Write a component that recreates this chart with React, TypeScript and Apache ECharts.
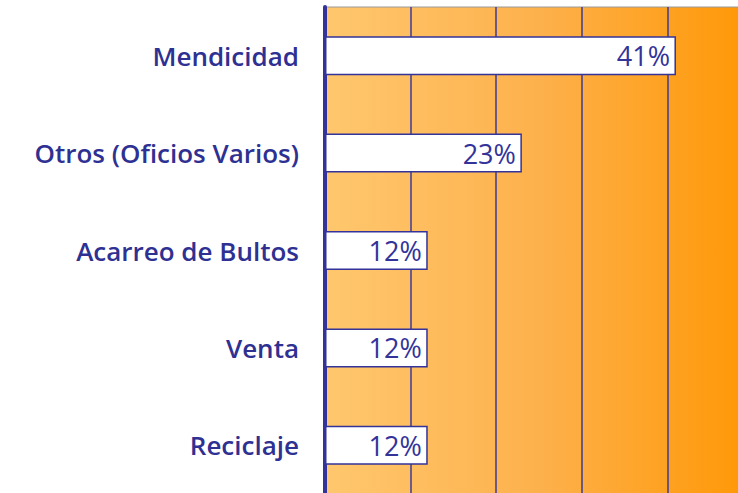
import React, { useEffect, useRef } from "react";
import * as echarts from "echarts";

const categories = ["Mendicidad", "Otros (Oficios Varios)", "Acarreo de Bultos", "Venta", "Reciclaje"];
const values = [41, 23, 12, 12, 12];
const xTicks = [0, 10, 20, 30, 40, 50];

export default function App() {
  const ref = useRef<HTMLDivElement>(null);
  useEffect(() => {
    if (!ref.current) return;
    const chart = echarts.init(ref.current, null, { renderer: "svg" });
    chart.setOption({
      animation: false,
      backgroundColor: "#ffffff",
      grid: {
        left: 325,
        top: 7,
        right: -15,
        bottom: -1,
        outerBoundsMode: "none",
        containLabel: false,
        show: true,
        borderColor: "#9a9a9a",
        borderWidth: 1,
        backgroundColor: new echarts.graphic.LinearGradient(0, 0, 1, 0, [
          { offset: 0, color: "#FFC76E" },
          { offset: 0.5, color: "#FDB14C" },
          { offset: 1, color: "#FF9704" },
        ]),
      },
      xAxis: {
        type: "value",
        min: xTicks[0],
        max: xTicks[xTicks.length - 1],
        interval: 10,
        axisLabel: { show: false },
        axisLine: { show: false },
        axisTick: { show: false },
        splitLine: { show: true, lineStyle: { color: "#3b3b9b", width: 1.5 } },
      },
      yAxis: {
        type: "category",
        inverse: true,
        data: categories,
        axisLine: { show: true, lineStyle: { color: "#333399", width: 4 } },
        axisTick: { show: false },
        axisLabel: {
          margin: 26,
          fontFamily: "Open Sans",
          fontWeight: 600,
          fontSize: 26,
          color: "#2E3192",
        },
      },
      series: [
        {
          type: "bar",
          data: values,
          barWidth: 39,
          itemStyle: { color: "#ffffff", borderColor: "#333399", borderWidth: 1.5 },
          label: {
            show: true,
            position: "insideRight",
            distance: 6,
            formatter: "{c}%",
            fontFamily: "Open Sans",
            fontSize: 27,
            color: "#333399",
          },
        },
      ],
    });
    return () => chart.dispose();
  }, []);
  return (
    <div
      ref={ref}
      style={{ position: "fixed", left: 0, top: 0, width: 738, height: 493 }}
    />
  );
}
